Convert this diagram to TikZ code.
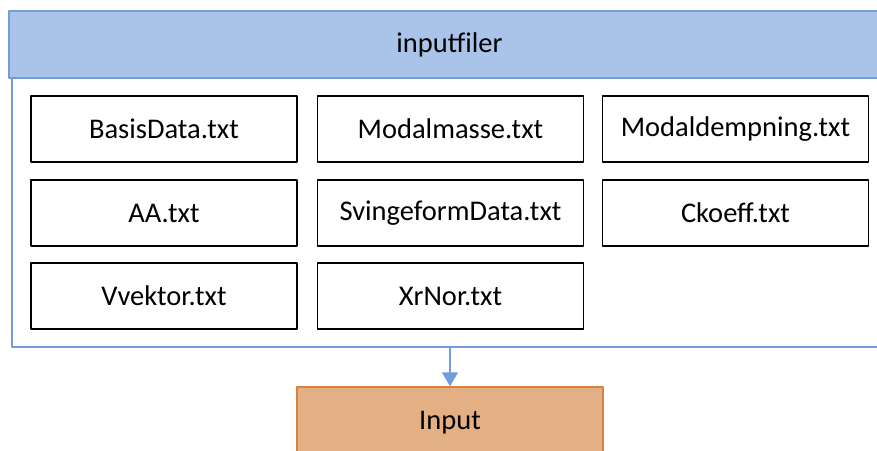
\documentclass[tikz,border=0pt]{standalone}
\usepackage{fontspec}
\setmainfont{Carlito}
\usetikzlibrary{arrows.meta}
\begin{document}
\begin{tikzpicture}[x=1pt,y=-1pt,line join = round,>={Triangle[width=16pt,length=14pt]},font=\fontsize{28.5}{32}\selectfont]
            \definecolor{barblue}{RGB}{169,196,232}
            \definecolor{edgeblue}{RGB}{114,157,218}
            \definecolor{inputorange}{RGB}{227,175,132}
            \definecolor{edgeorange}{RGB}{215,130,65}
            \tikzset{fil/.style={draw=black,line width=1.6pt,fill=white,minimum width=266pt,minimum height=66pt,inner sep=0pt}}
            \useasboundingbox (0,0) rectangle (877,450);
            \clip (0,0) rectangle (877,450);
            
            \node[draw=edgeblue,line width=1.4pt,minimum width=875pt,minimum height=336pt,inner sep=0pt] (mappe) at (449.5,179) {};
            \node[draw=edgeblue,fill=barblue,line width=1.4pt,minimum width=881pt,minimum height=67pt,inner sep=0pt] (topp) at (449.5,44.5) {inputfiler};
            %===============================
            \node[fil] (basis) at (164,129) {BasisData.txt};
            \node[fil] (masse) at (450.5,129) {Modalmasse.txt};
            \node[fil] (demp) at (735.5,129) {Modaldempning.txt};
            \node[fil] (aa) at (164,213) {AA.txt};
            \node[fil] (sving) at (450.5,213) {SvingeformData.txt};
            \node[fil] (ckoeff) at (735.5,213) {Ckoeff.txt};
            \node[fil] (vvek) at (164,296) {Vvektor.txt};
            \node[fil] (xrnor) at (450.5,296) {XrNor.txt};
            
            \node[draw=edgeorange,fill=inputorange,line width=1.4pt,minimum width=306pt,minimum height=72pt,inner sep=0pt] (inp) at (450,423) {Input};
            \draw[->,edgeblue,line width=1.4pt] (mappe.south -| inp.north) -- (inp.north);
        \end{tikzpicture}
\end{document}
